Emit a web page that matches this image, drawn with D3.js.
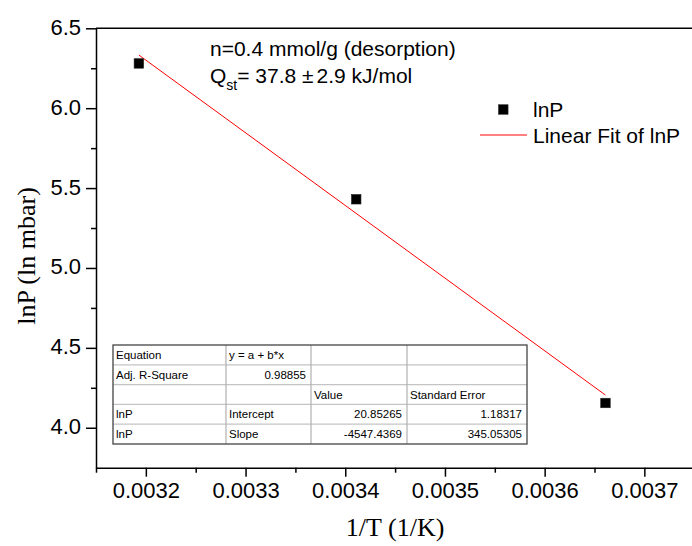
<!DOCTYPE html>
<html>
<head>
<meta charset="utf-8">
<script src="https://cdn.jsdelivr.net/npm/d3@7"></script>
<style>
  html, body { margin: 0; padding: 0; background: #fff; }
  svg { display: block; }
</style>
</head>
<body>
<svg id="chart" width="692" height="546"></svg>
<script>
// ---------- data ----------
const invT = [0.003193, 0.003411, 0.003661];          // 1/T (1/K)
const lnP  = [6.28, 5.43, 4.155];                      // lnP (ln mbar)
const fitIntercept = 20.85265;
const fitSlope = -4547.4369;
const xMajorTicks = [0.0032, 0.0033, 0.0034, 0.0035, 0.0036, 0.0037];
const xMinorTicks = [0.00315, 0.00325, 0.00335, 0.00345, 0.00355, 0.00365, 0.00375];
const yMajorTicks = [4.0, 4.5, 5.0, 5.5, 6.0, 6.5];
const yMinorTicks = [4.25, 4.75, 5.25, 5.75, 6.25];
const tableRows = [
  ["Equation", "y = a + b*x", "", ""],
  ["Adj. R-Square", "0.98855", "", ""],
  ["", "", "Value", "Standard Error"],
  ["lnP", "Intercept", "20.85265", "1.18317"],
  ["lnP", "Slope", "-4547.4369", "345.05305"]
];
const tableAlign = [
  ["start", "start", "start", "start"],
  ["start", "end", "start", "start"],
  ["start", "start", "start", "start"],
  ["start", "start", "end", "end"],
  ["start", "start", "end", "end"]
];
const legendLabels = ["lnP", "Linear Fit of lnP"];

// ---------- layout ----------
(function draw() {
const svg = d3.select("#chart");
const pL = 96, pR = 694.2, pT = 28.3, pB = 467.7;
const x = d3.scaleLinear().domain([0.00315, 0.00375]).range([pL, pR]);
const y = d3.scaleLinear().domain([3.75, 6.5]).range([pB, pT]);
const sans = "'Liberation Sans', Arial, Helvetica, sans-serif";
const serif = "'Liberation Serif', 'Times New Roman', Times, serif";

// top frame line
svg.append("line").attr("x1", pL).attr("x2", pR).attr("y1", pT).attr("y2", pT)
  .attr("stroke", "#000").attr("stroke-width", 1.5);

// x axis
const gx = svg.append("g").attr("transform", `translate(0,${pB})`);
gx.call(d3.axisBottom(x).tickValues(xMajorTicks).tickFormat(d3.format(".4f"))
  .tickSize(9).tickSizeOuter(0).tickPadding(6));
gx.append("g").call(d3.axisBottom(x).tickValues(xMinorTicks).tickFormat("").tickSize(5).tickSizeOuter(0))
  .select(".domain").remove();
gx.selectAll("path, line").attr("stroke", "#000").attr("stroke-width", 1.5);
gx.selectAll("text").attr("font-family", sans).attr("font-size", 22).attr("fill", "#000");

// y axis
const gy = svg.append("g").attr("transform", `translate(${pL},0)`);
gy.call(d3.axisLeft(y).tickValues(yMajorTicks).tickFormat(d3.format(".1f"))
  .tickSize(10).tickSizeOuter(0).tickPadding(5));
gy.append("g").call(d3.axisLeft(y).tickValues(yMinorTicks).tickFormat("").tickSize(5).tickSizeOuter(0))
  .select(".domain").remove();
gy.selectAll("path, line").attr("stroke", "#000").attr("stroke-width", 1.5);
gy.selectAll("text").attr("font-family", sans).attr("font-size", 22).attr("fill", "#000").attr("dy", "0.27em");

// axis titles
svg.append("text").attr("x", (pL + pR) / 2).attr("y", 536)
  .attr("text-anchor", "middle").attr("font-family", serif).attr("font-size", 26)
  .text("1/T (1/K)");
svg.append("text").attr("transform", `translate(35,${(pT + pB) / 2 + 8}) rotate(-90)`)
  .attr("text-anchor", "middle").attr("font-family", serif).attr("font-size", 26)
  .text("lnP (ln mbar)");

// fit line
const xs = d3.extent(invT);
svg.append("line")
  .attr("x1", x(xs[0])).attr("y1", y(fitIntercept + fitSlope * xs[0]))
  .attr("x2", x(xs[1])).attr("y2", y(fitIntercept + fitSlope * xs[1]))
  .attr("stroke", "#ff0000").attr("stroke-width", 1);

// points
const sq = 9.5;
svg.selectAll("rect.pt").data(invT.map((d, i) => [d, lnP[i]])).join("rect")
  .attr("class", "pt")
  .attr("x", d => x(d[0]) - sq / 2).attr("y", d => y(d[1]) - sq / 2)
  .attr("width", sq).attr("height", sq)
  .attr("fill", "#000").attr("stroke", "#222").attr("stroke-width", 0.6);

// annotation
svg.append("text").attr("x", 210).attr("y", 56)
  .attr("font-family", sans).attr("font-size", 21).text("n=0.4 mmol/g (desorption)");
const q = svg.append("text").attr("x", 210).attr("y", 83)
  .attr("font-family", sans).attr("font-size", 21);
q.append("tspan").text("Q");
q.append("tspan").attr("font-size", 14).attr("dy", 7).text("st");
q.append("tspan").attr("dy", -7).text("= 37.8 \u00B1");
q.append("tspan").attr("dx", 3).text("2.9 kJ/mol");

// legend
svg.append("rect").attr("x", 503.3 - sq / 2).attr("y", 109.5 - sq / 2).attr("width", sq).attr("height", sq)
  .attr("fill", "#000").attr("stroke", "#222").attr("stroke-width", 0.6);
svg.append("text").attr("x", 533).attr("y", 117).attr("font-family", sans).attr("font-size", 21)
  .text(legendLabels[0]);
svg.append("line").attr("x1", 480).attr("x2", 527).attr("y1", 135).attr("y2", 135)
  .attr("stroke", "#ff0000").attr("stroke-width", 1);
svg.append("text").attr("x", 533).attr("y", 143).attr("font-family", sans).attr("font-size", 21)
  .text(legendLabels[1]);

// table
const colX = [113, 226, 311, 407, 527];
const rowH = 19.8, tTop = 345;
const tg = svg.append("g");
tg.append("rect").attr("x", colX[0]).attr("y", tTop).attr("width", colX[4] - colX[0])
  .attr("height", rowH * tableRows.length).attr("fill", "#fff");
for (let r = 1; r < tableRows.length; r++) {
  tg.append("line").attr("x1", colX[0]).attr("x2", colX[4])
    .attr("y1", tTop + r * rowH).attr("y2", tTop + r * rowH)
    .attr("stroke", "#c4c4c4").attr("stroke-width", 1.2);
}
for (let c = 1; c < 4; c++) {
  tg.append("line").attr("x1", colX[c]).attr("x2", colX[c])
    .attr("y1", tTop).attr("y2", tTop + rowH * tableRows.length)
    .attr("stroke", "#b0b0b0").attr("stroke-width", 1.2);
}
tg.append("rect").attr("x", colX[0]).attr("y", tTop).attr("width", colX[4] - colX[0])
  .attr("height", rowH * tableRows.length).attr("fill", "none")
  .attr("stroke", "#444").attr("stroke-width", 1.3);
tableRows.forEach((row, r) => {
  row.forEach((cell, c) => {
    if (!cell) return;
    const al = tableAlign[r][c];
    tg.append("text")
      .attr("x", al === "end" ? colX[c + 1] - 5 : colX[c] + 3)
      .attr("y", tTop + r * rowH + 14)
      .attr("text-anchor", al)
      .attr("font-family", sans).attr("font-size", 11.5).attr("fill", "#000")
      .text(cell);
  });
});
})();
</script>
</body>
</html>
